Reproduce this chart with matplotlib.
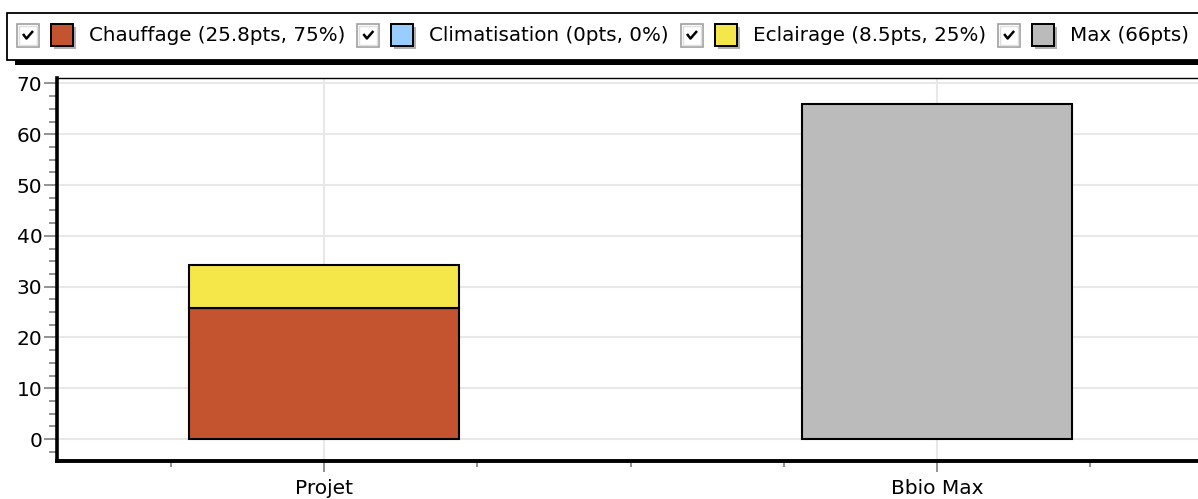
import matplotlib
matplotlib.use("Agg")
import matplotlib.pyplot as plt
from matplotlib.patches import Rectangle
from matplotlib.ticker import MultipleLocator, FixedLocator

# Chart data
categories = ["Projet", "Bbio Max"]
series_names = ["Chauffage", "Climatisation", "Eclairage"]
series_values = [25.8, 0.0, 8.5]          # stacked on "Projet"
series_colors = ["#C45430", "#99CCFF", "#F5E64A"]
max_name = "Max"
max_value = 66.0                          # drawn on "Bbio Max"
max_color = "#BBBBBB"
y_ticks = [0, 10, 20, 30, 40, 50, 60, 70]

W, H = 1198, 499
plt.rcParams["font.family"] = ["DejaVu Sans"]
fig = plt.figure(figsize=(W / 100, H / 100), dpi=100)

ax = fig.add_axes([57 / W, 1 - 461 / H, 1 - 57 / W, (461 - 78) / H])
ax.set_xlim(-0.4356, 1.4258)
ax.set_ylim(-4.33, 71.08)

# Stacked bars for the project, single bar for the reference maximum
bar_w = 0.44
bottom = 0.0
for name, val, col in zip(series_names, series_values, series_colors):
    ax.bar(0, val, width=bar_w, bottom=bottom, color=col,
           edgecolor="black", linewidth=1.5, zorder=3)
    bottom += val
ax.bar(1, max_value, width=bar_w, color=max_color,
       edgecolor="black", linewidth=1.5, zorder=3)

# Axes styling
ax.set_xticks(range(len(categories)))
ax.set_xticklabels(categories)
ax.xaxis.set_minor_locator(MultipleLocator(0.25))
ax.yaxis.set_major_locator(FixedLocator(y_ticks))
ax.yaxis.set_minor_locator(MultipleLocator(2.5))
ax.grid(True, which="major", color="#e8e8e8", linewidth=1.5, zorder=0)
ax.set_axisbelow(True)

ax.spines["right"].set_visible(False)
ax.spines["top"].set_linewidth(1.0)
ax.spines["left"].set_linewidth(2.6)
ax.spines["bottom"].set_linewidth(2.8)
for s in ax.spines.values():
    s.set_zorder(5)

ax.tick_params(axis="y", which="major", length=9.5, width=1.2, color="#808080",
               labelsize=14.5, pad=1)
ax.tick_params(axis="y", which="minor", length=6, width=1.2, color="#808080")
ax.tick_params(axis="x", which="major", length=8, width=1.2, color="#808080",
               labelsize=14.5, pad=5)
ax.tick_params(axis="x", which="minor", length=4.5, width=1.2, color="#808080")

# Legend strip with check boxes, drawn in pixel coordinates
lax = fig.add_axes([0, 0, 1, 1])
lax.set_xlim(0, W)
lax.set_ylim(H, 0)
lax.axis("off")

lax.add_patch(Rectangle((15, 59.5), W, 5.5, facecolor="black", edgecolor="none"))
lax.add_patch(Rectangle((7, 13), W, 47, facecolor="white", edgecolor="black",
                        linewidth=1.3))

total = sum(series_values)
labels = [f"{n} ({v:g}pts, {round(100 * v / total):.0f}%)"
          for n, v in zip(series_names, series_values)]
labels.append(f"{max_name} ({max_value:g}pts)")
colors = series_colors + [max_color]

renderer = fig.canvas.get_renderer()
x = 17
cy = 35
for lab, col in zip(labels, colors):
    # check box
    lax.add_patch(Rectangle((x, cy - 11.5), 22, 23, facecolor="white",
                            edgecolor="#a0a0a0", linewidth=1.2))
    lax.add_patch(Rectangle((x + 2, cy - 9.5), 18, 19, facecolor="none",
                            edgecolor="#e0e0e0", linewidth=1.0))
    lax.plot([x + 6, x + 9.5, x + 16], [cy - 1, cy + 3.5, cy - 4],
             color="black", linewidth=1.8, solid_capstyle="butt")
    x += 34
    # colour swatch with drop shadow
    lax.add_patch(Rectangle((x + 3, cy - 8), 22, 22, facecolor="#b0b0b0",
                            edgecolor="none"))
    lax.add_patch(Rectangle((x, cy - 11), 22, 22, facecolor=col,
                            edgecolor="black", linewidth=1.4))
    x += 38
    t = lax.text(x, cy, lab, fontsize=14.3, va="center", ha="left", color="black")
    x += t.get_window_extent(renderer).width + 12

fig.savefig("out.png", dpi=100)
